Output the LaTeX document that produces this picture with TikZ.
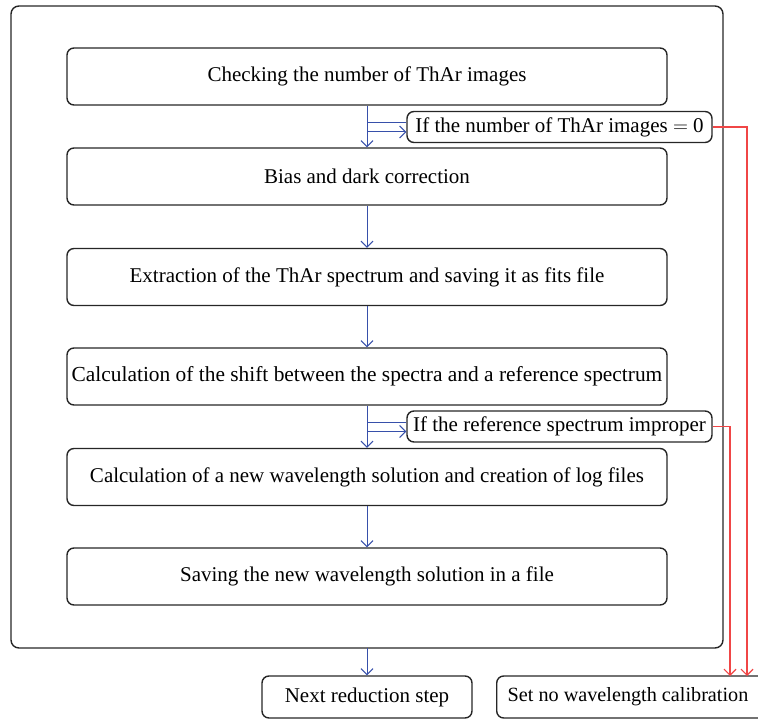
\documentclass[tikz,border=0pt]{standalone}
\usepackage{fontspec}
\setmainfont{Liberation Serif}
\usetikzlibrary{arrows.meta}
\definecolor{flowblue}{RGB}{55,80,170}
\definecolor{flowred}{RGB}{240,70,70}
\tikzset{
  boxfont/.style={font=\fontsize{21}{24}\selectfont},
  stepbox/.style={draw=black!85, line width=1.4pt, rounded corners=7pt,
    minimum width=600pt, minimum height=57pt, inner sep=0pt, boxfont},
  condbox/.style={draw=black!85, line width=1.4pt, rounded corners=7pt,
    minimum width=305pt, minimum height=31pt, inner sep=0pt, boxfont},
  endbox/.style={draw=black!85, line width=1.4pt, rounded corners=7pt,
    minimum height=42pt, inner xsep=11pt, inner ysep=0pt, boxfont},
  frame/.style={draw=black!85, line width=1.4pt, rounded corners=8pt},
  goon/.style={draw=flowblue, line width=1pt, -{Straight Barb[length=6pt,width=12pt]}},
  abort/.style={draw=flowred, line width=1.2pt, -{Straight Barb[length=6pt,width=12pt]}}
}
\begin{document}
\begin{tikzpicture}[x=1pt,y=-1pt]
\useasboundingbox (0,0) rectangle (758,719);
% enclosing frame of the calibration procedure
\draw[frame] (11,6) rectangle (723,648);
\coordinate (framebottom) at (367,648);

% processing steps
\node[stepbox] (s1) at (367,76.5) {Checking the number of ThAr images};
\node[stepbox] (s2) at (367,176.5) {Bias and dark correction};
\node[stepbox] (s3) at (367,277) {Extraction of the ThAr spectrum and saving it as fits file};
\node[stepbox, font=\fontsize{21.4}{24}\selectfont] (s4) at (367,376.5) {Calculation of the shift between the spectra and a reference spectrum};
\node[stepbox] (s5) at (367,477) {Calculation of a new wavelength solution and creation of log files};
\node[stepbox] (s6) at (367,576.5) {Saving the new wavelength solution in a file};

% checks
\node[condbox] (c1) at (559.5,127) {If the number of ThAr images $=$ 0};
\node[condbox] (c2) at (559.5,426.5) {If the reference spectrum improper};

% outcomes
\node[endbox, minimum width=210pt] (next) at (367,697) {Next reduction step};
\node[endbox, anchor=west, font=\fontsize{20.2}{24}\selectfont] (none) at (496,697) {Set no wavelength calibration\hspace*{20pt}};

% normal flow
\draw[goon] (s1.south) |- ([yshift=-5pt]c1.west);
\draw[goon] ([yshift=4pt]c1.west) -| (s2.north);
\draw[goon] (s2) -- (s3);
\draw[goon] (s3) -- (s4);
\draw[goon] (s4.south) |- ([yshift=-5pt]c2.west);
\draw[goon] ([yshift=4pt]c2.west) -| (s5.north);
\draw[goon] (s5) -- (s6);
\draw[goon] (framebottom) -- (next);

% failure branches
\draw[abort] (c1.east) -- (747,127) -- (747,676);
\draw[abort] (c2.east) -- (730,426.5) -- (730,676);
\end{tikzpicture}
\end{document}
